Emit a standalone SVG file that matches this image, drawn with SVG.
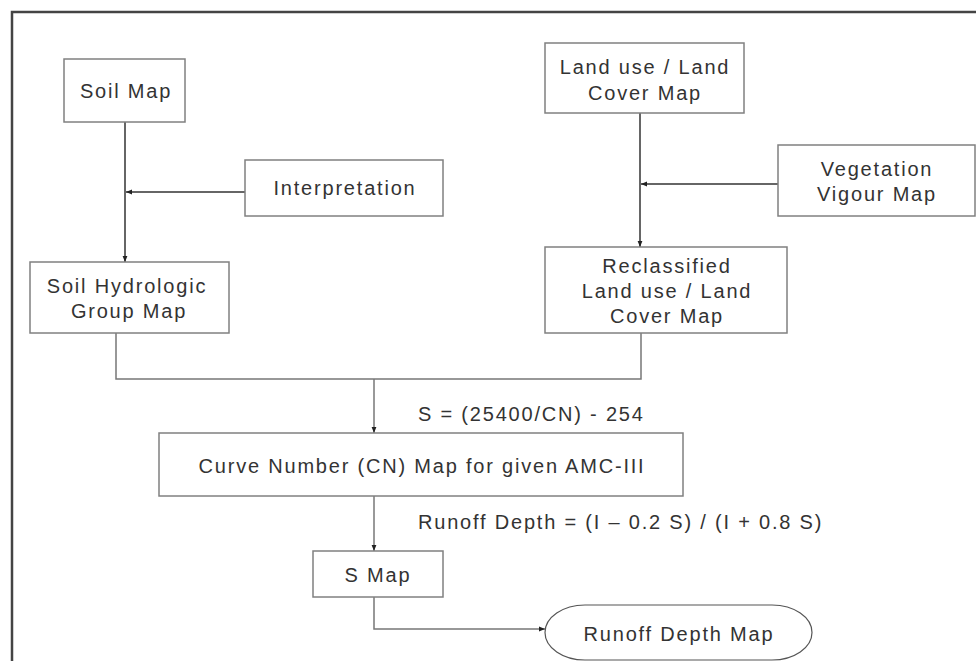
<svg xmlns="http://www.w3.org/2000/svg" width="976" height="661" viewBox="0 0 976 661">
<style>
.box{fill:#fff;stroke:#808080;stroke-width:1.5}
.t{font-family:"Liberation Sans",Arial,sans-serif;font-size:20px;letter-spacing:1.8px;fill:#333;text-anchor:middle}
.l{font-family:"Liberation Sans",Arial,sans-serif;font-size:20px;letter-spacing:1.8px;fill:#333}
.c{fill:none;stroke:#333;stroke-width:1.5}
.c2{fill:none;stroke:#777;stroke-width:1.5}
</style>
<defs>
<marker id="ah" viewBox="0 0 10 10" refX="10" refY="5" markerWidth="6" markerHeight="6" markerUnits="userSpaceOnUse" orient="auto">
<path d="M0,1 L10,5 L0,9 Z" fill="#222"/>
</marker>
</defs>
<rect width="976" height="661" fill="#fff"/>
<g id="frame">
<path d="M12,661 V12 H976" fill="none" stroke="#444" stroke-width="2.5"/>
</g>
<g id="connectors">
<path class="c" d="M125,122 V262" marker-end="url(#ah)"/>
<path class="c" d="M245,192 H126" marker-end="url(#ah)"/>
<path class="c" d="M640,113 V247" marker-end="url(#ah)"/>
<path class="c" d="M778,184 H641" marker-end="url(#ah)"/>
<path class="c2" d="M116,333 V379 H641 V333"/>
<path class="c2" d="M374,379 V433" marker-end="url(#ah)"/>
<path class="c2" d="M374,496 V551" marker-end="url(#ah)"/>
<path class="c2" d="M374,597 V629 H545" marker-end="url(#ah)"/>
</g>
<g id="soil-map">
<rect class="box" x="64" y="59" width="121" height="63"/>
<text class="t" x="126" y="98">Soil Map</text>
</g>
<g id="interpretation">
<rect class="box" x="245" y="160" width="198" height="56"/>
<text class="t" x="345" y="195">Interpretation</text>
</g>
<g id="soil-hydrologic">
<rect class="box" x="30" y="262" width="199" height="71"/>
<text class="t" x="127" y="293">Soil Hydrologic</text>
<text class="t" x="129" y="318">Group Map</text>
</g>
<g id="landuse">
<rect class="box" x="545" y="43" width="199" height="70"/>
<text class="t" x="645" y="74">Land use / Land</text>
<text class="t" x="645" y="100">Cover Map</text>
</g>
<g id="vegetation">
<rect class="box" x="778" y="145" width="197" height="71"/>
<text class="t" x="877" y="176">Vegetation</text>
<text class="t" x="877" y="201">Vigour Map</text>
</g>
<g id="reclassified">
<rect class="box" x="545" y="247" width="242" height="86"/>
<text class="t" x="667" y="273">Reclassified</text>
<text class="t" x="667" y="298">Land use / Land</text>
<text class="t" x="667" y="323">Cover Map</text>
</g>
<g id="cn-map">
<rect class="box" x="159" y="433" width="524" height="63"/>
<text class="t" x="422" y="473">Curve Number (CN) Map for given AMC-III</text>
</g>
<g id="labels">
<text class="l" x="418" y="421">S = (25400/CN) - 254</text>
<text class="l" x="418" y="529">Runoff Depth = (I – 0.2 S) / (I + 0.8 S)</text>
</g>
<g id="s-map">
<rect class="box" x="313" y="551" width="130" height="46"/>
<text class="t" x="378" y="582">S Map</text>
</g>
<g id="runoff-map">
<rect x="545" y="605" width="267" height="55" rx="40" ry="27.5" fill="#fff" stroke="#555" stroke-width="1.2"/>
<text class="t" x="679" y="641">Runoff Depth Map</text>
</g>
</svg>
